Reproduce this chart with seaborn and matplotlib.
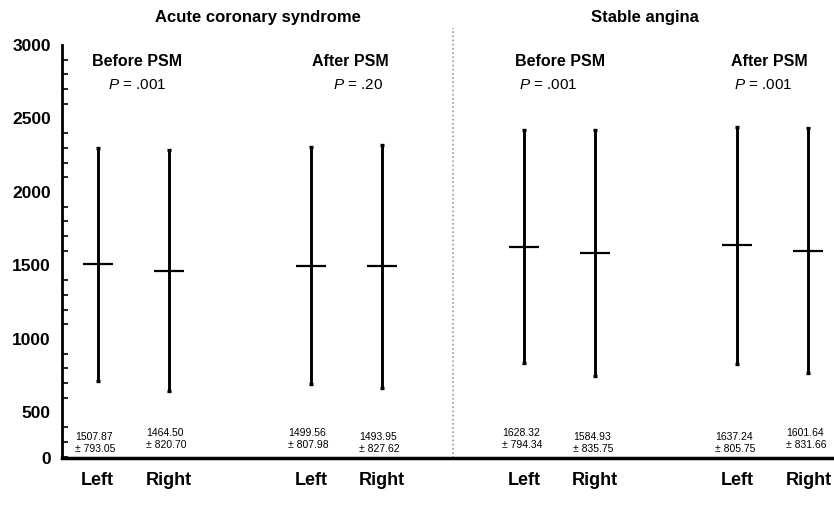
import numpy as np
import pandas as pd
import seaborn as sns
import matplotlib.pyplot as plt
from matplotlib.ticker import FixedLocator

# Data
groups = ['ACS before', 'ACS before', 'ACS after', 'ACS after',
          'SA before', 'SA before', 'SA after', 'SA after']
sides = ['Left', 'Right', 'Left', 'Right', 'Left', 'Right', 'Left', 'Right']
means = [1507.87, 1464.50, 1499.56, 1493.95, 1628.32, 1584.93, 1637.24, 1601.64]
sds = [793.05, 820.70, 807.98, 827.62, 794.34, 835.75, 805.75, 831.66]
p_values = ['.001', '.20', '.001', '.001']
subheads = ['Before PSM', 'After PSM', 'Before PSM', 'After PSM']
sections = ['Acute coronary syndrome', 'Stable angina']

# layout: pairs with one empty slot between them
xpos = [0, 1, 3, 4, 6, 7, 9, 10]
df = pd.DataFrame({'group': groups, 'side': sides, 'mean': means, 'sd': sds, 'x': xpos})

sns.set_style('white')
plt.rcParams['font.family'] = ['Liberation Sans', 'DejaVu Sans']
plt.rcParams['text.color'] = 'black'
plt.rcParams['xtick.color'] = 'black'
plt.rcParams['ytick.color'] = 'black'
plt.rcParams['mathtext.fontset'] = 'custom'
plt.rcParams['mathtext.it'] = 'Liberation Sans:italic'
plt.rcParams['mathtext.rm'] = 'Liberation Sans'

fig = plt.figure(figsize=(8.34, 5.16), dpi=100)
ax = fig.add_axes([0.0743, 0.1124, 0.9257, 0.8004])

# SD whiskers
ax.errorbar(df['x'], df['mean'], yerr=df['sd'], fmt='none', ecolor='black',
            elinewidth=2.1, capsize=1.6, capthick=2.4, zorder=2)
# mean markers
sns.scatterplot(data=df, x='x', y='mean', marker='_', s=480, color='black',
                linewidth=1.6, ax=ax, zorder=3, legend=False)

ax.set_xlim(-0.5, 10.36)
ax.set_ylim(190, 3000)

ax.set_xticks(xpos)
ax.set_xticklabels(sides, fontsize=13, fontweight='bold')
ax.tick_params(axis='x', length=0, pad=10)

ax.yaxis.set_major_locator(FixedLocator([190, 500, 1000, 1500, 2000, 2500, 3000]))
ax.set_yticklabels(['0', '500', '1000', '1500', '2000', '2500', '3000'],
                   fontsize=12.5, fontweight='bold')
ax.yaxis.set_minor_locator(FixedLocator([v for v in range(200, 3000, 100) if v % 500]))
ax.tick_params(axis='y', which='major', direction='inout', length=8, width=1.2, pad=4)
ax.tick_params(axis='y', which='minor', direction='in', length=4, width=1.2, left=True)
ax.set_xlabel('')
ax.set_ylabel('')

for s in ['top', 'right']:
    ax.spines[s].set_visible(False)
ax.spines['left'].set_linewidth(2)
ax.spines['bottom'].set_linewidth(2.5)
ax.spines['left'].set_color('black')
ax.spines['bottom'].set_color('black')

# dotted separator between the two diagnoses
ax.axvline(5, ymin=0, ymax=1.04, color='#999999', linestyle=(0, (1, 1.5)),
           linewidth=1.2, clip_on=False)

# section titles
ax.text(2.25, 3190, sections[0], ha='center', va='center', fontsize=12, fontweight='bold')
ax.text(7.7, 3190, sections[1], ha='center', va='center', fontsize=12, fontweight='bold')

# subheaders and P values
head_x = [0.55, 3.55, 6.5, 9.45]
p_x = [0.56, 3.67, 6.34, 9.37]
for hx, px, h, p in zip(head_x, p_x, subheads, p_values):
    ax.text(hx, 2885, h, ha='center', va='center', fontsize=11.5, fontweight='bold')
    ax.text(px, 2725, f'$P$ = {p}', ha='center', va='center', fontsize=11)

# mean ± SD annotations under each bar
text_y = [292, 318, 318, 292, 318, 292, 292, 318]
for x, m, sd, ty in zip(xpos, means, sds, text_y):
    ax.text(x - 0.03, ty, f'{m:.2f}\n± {sd:.2f}', ha='center', va='center',
            fontsize=7.5, multialignment='left', linespacing=1.25)

fig.savefig('out.png', dpi=100)
